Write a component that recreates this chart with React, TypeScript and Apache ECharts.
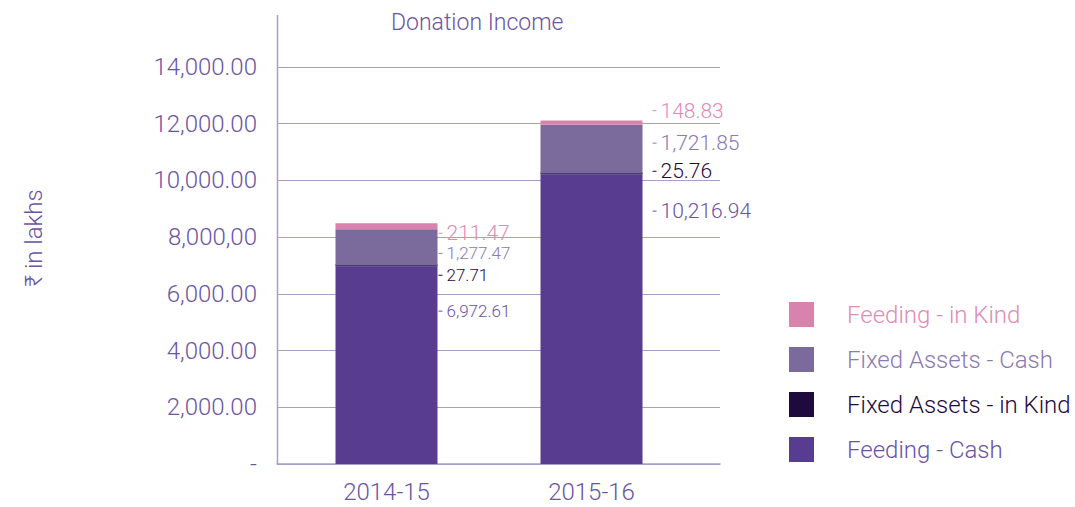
import React, { useEffect, useRef } from "react";
import * as echarts from "echarts";

const years = ["2014-15", "2015-16"];
const feedingCash = [6972.61, 10216.94];
const fixedAssetsKind = [27.71, 25.76];
const fixedAssetsCash = [1277.47, 1721.85];
const feedingKind = [211.47, 148.83];
const yTickLabels = ["-", "2,000.00", "4,000.00", "6,000.00", "8,000,00", "10,000.00", "12,000.00", "14,000.00"];

const FONT = "Roboto, 'Noto Sans', 'DejaVu Sans', sans-serif";
const AXIS_COLOR = "#6a55a3";
const GRID_COLOR = "#a99dcc";

const fmt = (v: number) =>
  v.toLocaleString("en-US", { minimumFractionDigits: 2, maximumFractionDigits: 2 });

// label placement (offset dx, dy, font size) per series per year
const labelCfg: Record<string, { dx: number; dy: number; fs: number }[]> = {
  feedingCash: [{ dx: 0, dy: -54, fs: 17 }, { dx: 9, dy: -108, fs: 21 }],
  fixedAssetsKind: [{ dx: 0, dy: 10, fs: 17 }, { dx: 9, dy: -2, fs: 21 }],
  fixedAssetsCash: [{ dx: 0, dy: 6, fs: 17 }, { dx: 9, dy: -6, fs: 21 }],
  feedingKind: [{ dx: 0, dy: 7, fs: 21 }, { dx: 9, dy: -12, fs: 21 }],
};

export default function App() {
  const ref = useRef<HTMLDivElement>(null);
  useEffect(() => {
    if (!ref.current) return;
    const chart = echarts.init(ref.current, undefined, { renderer: "svg" });

    const mkSeries = (
      name: string,
      key: string,
      values: number[],
      color: string,
      labelColor: string,
      extra: any = {}
    ) => ({
      name,
      type: "bar",
      stack: "total",
      xAxisIndex: 1,
      yAxisIndex: 1,
      barWidth: 102,
      itemStyle: { color },
      ...extra,
      label: {
        show: true,
        position: "right",
        distance: 1,
        fontFamily: FONT,
        fontWeight: 300,
        color: labelColor,
        formatter: (p: any) => `{t|}{v|${fmt(p.value)}}`,
        rich: {
          t: { width: 4, height: 1, backgroundColor: labelColor },
        },
      },
      data: values.map((v, i) => ({
        value: v,
        label: {
          offset: [labelCfg[key][i].dx, labelCfg[key][i].dy],
          rich: {
            t: { width: 4, height: 1, backgroundColor: labelColor },
            v: {
              fontSize: labelCfg[key][i].fs,
              fontFamily: FONT,
              fontWeight: 300,
              color: labelColor,
              padding: [0, 0, 0, 4],
            },
          },
        },
      })),
    });

    const legendItems = [
      { name: "Feeding - in Kind", color: "#e08bb6" },
      { name: "Fixed Assets - Cash", color: "#8a7ab0" },
      { name: "Fixed Assets - in Kind", color: "#1e0a3c" },
      { name: "Feeding - Cash", color: "#6a52a3" },
    ];

    chart.setOption({
      animation: false,
      backgroundColor: "#ffffff",
      title: {
        text: "Donation Income",
        left: 386,
        top: 6,
        textStyle: { fontFamily: FONT, fontWeight: 300, fontSize: 23, color: AXIS_COLOR },
      },
      legend: {
        orient: "vertical",
        left: 789,
        top: 302,
        padding: 0,
        itemWidth: 25,
        itemHeight: 25,
        itemGap: 20,
        icon: "rect",
        selectedMode: false,
        data: legendItems.map((l) => ({ name: l.name, textStyle: { color: l.color } })),
        textStyle: {
          fontFamily: FONT,
          fontWeight: 300,
          fontSize: 24,
          padding: [0, 0, 0, 28],
        },
      },
      grid: [
        { left: 277, right: 355, top: 67, bottom: 43 },
        { left: 284, width: 410, top: 67, bottom: 43 },
      ],
      xAxis: [
        {
          type: "category",
          gridIndex: 0,
          data: years,
          axisLine: { show: true, lineStyle: { color: GRID_COLOR, width: 1.5 } },
          axisTick: { show: false },
          axisLabel: { show: false },
        },
        {
          type: "category",
          gridIndex: 1,
          data: years,
          axisLine: { show: false },
          axisTick: { show: false },
          axisLabel: {
            margin: 16,
            fontFamily: FONT,
            fontWeight: 300,
            fontSize: 24,
            color: AXIS_COLOR,
          },
        },
      ],
      yAxis: [
        {
          type: "value",
          gridIndex: 0,
          min: 0,
          max: 14000,
          interval: 2000,
          axisLine: { show: false },
          axisTick: { show: false },
          splitLine: { show: true, lineStyle: { color: GRID_COLOR, width: 1 } },
          axisLabel: {
            margin: 20,
            fontFamily: FONT,
            fontWeight: 300,
            fontSize: 24,
            color: AXIS_COLOR,
            formatter: (v: number) => yTickLabels[Math.round(v / 2000)] ?? "",
          },
        },
        {
          type: "value",
          gridIndex: 1,
          min: 0,
          max: 14000,
          interval: 2000,
          show: false,
          splitLine: { show: false },
        },
      ],
      graphic: [
        {
          type: "line",
          shape: { x1: 277.5, y1: 15, x2: 277.5, y2: 464 },
          style: { stroke: GRID_COLOR, lineWidth: 1.5 },
          z: 10,
        },
        {
          type: "text",
          x: 34,
          y: 238,
          rotation: Math.PI / 2,
          style: {
            text: "₹ in lakhs",
            fontFamily: FONT,
            fontWeight: 300,
            fontSize: 24,
            fill: AXIS_COLOR,
            align: "center",
            verticalAlign: "middle",
          },
        },
      ],
      series: [
        mkSeries("Feeding - Cash", "feedingCash", feedingCash, "#583c8f", "#6a52a3"),
        mkSeries("Fixed Assets - in Kind", "fixedAssetsKind", fixedAssetsKind, "#1e0a3c", "#1e0a3c", { barMinHeight: 2 }),
        mkSeries("Fixed Assets - Cash", "fixedAssetsCash", fixedAssetsCash, "#7b6a9c", "#8a7ab0"),
        mkSeries("Feeding - in Kind", "feedingKind", feedingKind, "#d982ad", "#e08bb6"),
      ],
    });
    return () => chart.dispose();
  }, []);
  return (
    <div
      ref={ref}
      style={{ position: "fixed", left: 0, top: 0, width: 1075, height: 507 }}
    />
  );
}
